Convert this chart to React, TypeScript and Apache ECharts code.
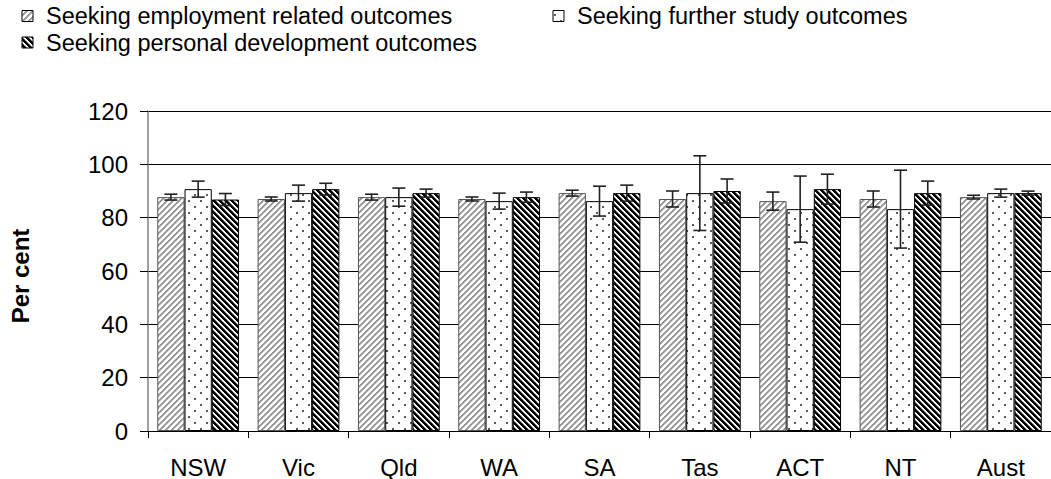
import React, { useEffect, useRef } from "react";
import * as echarts from "echarts";

const categories = ["NSW", "Vic", "Qld", "WA", "SA", "Tas", "ACT", "NT", "Aust"];
const seriesNames = [
  "Seeking employment related outcomes",
  "Seeking further study outcomes",
  "Seeking personal development outcomes",
];
const employment = [87.7, 87.0, 87.7, 87.0, 89.2, 87.0, 86.2, 87.0, 87.7];
const employmentErr = [1.1, 0.75, 1.1, 0.75, 1.1, 3.0, 3.4, 3.0, 0.7];
const further = [90.7, 89.2, 87.7, 86.2, 86.2, 89.2, 83.2, 83.2, 89.2];
const furtherErr = [3.0, 3.0, 3.4, 3.0, 5.6, 14.0, 12.4, 14.6, 1.5];
const personal = [86.8, 90.7, 89.2, 87.7, 89.2, 90.0, 90.7, 89.2, 89.2];
const personalErr = [2.25, 2.2, 1.5, 1.9, 3.0, 4.5, 5.6, 4.5, 0.75];
const yTicks = { min: 0, max: 120, interval: 20 };

const FONT = "'Liberation Sans', Arial, Helvetica, sans-serif";
const CAT_GAP = 0.185;

function makeCanvas(w: number, h: number, fn: (x: number, y: number) => number[]) {
  const c = document.createElement("canvas");
  c.width = w;
  c.height = h;
  const ctx = c.getContext("2d")!;
  const img = ctx.createImageData(w, h);
  for (let y = 0; y < h; y++) {
    for (let x = 0; x < w; x++) {
      const [r, g, b] = fn(x, y);
      const i = (y * w + x) * 4;
      img.data[i] = r;
      img.data[i + 1] = g;
      img.data[i + 2] = b;
      img.data[i + 3] = 255;
    }
  }
  ctx.putImageData(img, 0, 0);
  return c;
}

function buildPatterns() {
  const P = 6;
  const empl = makeCanvas(P, P, (x, y) => {
    const k = (x + y) % P;
    if (k < 2) return [150, 150, 150];
    if (k === 2) return [195, 195, 195];
    return [255, 255, 255];
  });
  const pers = makeCanvas(P, P, (x, y) => {
    const k = (((x - y) % P) + P) % P;
    if (k < 3) return [0, 0, 0];
    if (k === 3) return [120, 120, 120];
    return [255, 255, 255];
  });
  const dots = makeCanvas(12, 12, (x, y) => {
    const d1 = (x === 2 || x === 3) && (y === 2 || y === 3);
    const d2 = (x === 8 || x === 9) && (y === 8 || y === 9);
    if (d1 || d2) return [90, 90, 90];
    return [255, 255, 255];
  });
  return [
    { image: empl, repeat: "repeat" },
    { image: dots, repeat: "repeat" },
    { image: pers, repeat: "repeat" },
  ];
}

export default function App() {
  const ref = useRef<HTMLDivElement>(null);
  useEffect(() => {
    if (!ref.current) return;
    const chart = echarts.init(ref.current, null, { renderer: "svg" });
    const patterns = buildPatterns();
    const values = [employment, further, personal];
    const errs = [employmentErr, furtherErr, personalErr];
    const borders = ["#555555", "#000000", "#000000"];

    const barSeries = values.map((vals, s) => ({
      type: "bar",
      name: seriesNames[s],
      data: vals,
      barGap: "0%",
      barCategoryGap: CAT_GAP * 100 + "%",
      itemStyle: { color: patterns[s], borderColor: borders[s], borderWidth: 1 },
      z: 2,
    }));

    const errSeries = values.map((vals, s) => ({
      type: "custom",
      name: seriesNames[s] + " error",
      z: 5,
      data: vals.map((v, i) => [i, v, errs[s][i]]),
      encode: { x: 0, y: 1 },
      renderItem: (params: any, api: any) => {
        const idx = api.value(0);
        const v = api.value(1);
        const e = api.value(2);
        const c = api.coord([idx, v]);
        const band = api.size([1, 0])[0];
        const bw = (band * (1 - CAT_GAP)) / 3;
        const x = c[0] + (s - 1) * bw;
        const top = api.coord([idx, v + e])[1];
        const bot = api.coord([idx, v - e])[1];
        const cap = 6.5;
        const st = { stroke: "#222", lineWidth: 1.6 };
        return {
          type: "group",
          children: [
            { type: "line", shape: { x1: x, y1: top, x2: x, y2: bot }, style: st },
            { type: "line", shape: { x1: x - cap, y1: top, x2: x + cap, y2: top }, style: st },
            { type: "line", shape: { x1: x - cap, y1: bot, x2: x + cap, y2: bot }, style: st },
          ],
        };
      },
    }));

    const legendPos = [
      { ix: 22, iy: 10.5, tx: 46, ty: 16 },
      { ix: 553, iy: 10.5, tx: 577, ty: 16 },
      { ix: 22, iy: 37, tx: 46, ty: 42.5 },
    ];
    const legendGraphics: any[] = [];
    seriesNames.forEach((name, s) => {
      const p = legendPos[s];
      legendGraphics.push({
        type: "rect",
        shape: { x: p.ix, y: p.iy, width: 11, height: 11 },
        style: { fill: patterns[s], stroke: "#000", lineWidth: 1 },
      });
      legendGraphics.push({
        type: "text",
        x: p.tx,
        y: p.ty,
        style: {
          text: name,
          fontSize: 23.5,
          lineHeight: 22,
          fontFamily: FONT,
          fill: "#000",
          verticalAlign: "middle",
          align: "left",
        },
      });
    });

    chart.setOption({
      animation: false,
      backgroundColor: "#fff",
      textStyle: { fontFamily: FONT },
      grid: { left: 142, right: -5.7, top: 111, bottom: 47.3, containLabel: false },
      xAxis: {
        type: "category",
        data: categories,
        boundaryGap: true,
        axisLine: { lineStyle: { color: "#000", width: 1 } },
        axisTick: { show: true, length: 7, lineStyle: { color: "#000" }, alignWithLabel: false },
        axisLabel: { color: "#000", fontSize: 24, fontFamily: FONT, margin: 24 },
        splitLine: { show: false },
      },
      yAxis: {
        type: "value",
        min: yTicks.min,
        max: yTicks.max,
        interval: yTicks.interval,
        name: "Per cent",
        nameLocation: "middle",
        nameGap: 116,
        nameTextStyle: {
          fontSize: 24,
          fontWeight: "bold",
          color: "#000",
          fontFamily: FONT,
          padding: [0, 10, 0, 0],
        },
        axisLine: { show: true, lineStyle: { color: "#808080", width: 1.5 } },
        axisTick: { show: true, length: 8, lineStyle: { color: "#000" } },
        axisLabel: { color: "#000", fontSize: 24, fontFamily: FONT, margin: 20 },
        splitLine: { show: true, lineStyle: { color: "#000", width: 1 } },
      },
      graphic: legendGraphics,
      series: [...barSeries, ...errSeries],
    });
    return () => chart.dispose();
  }, []);
  return (
    <div
      ref={ref}
      style={{ position: "fixed", left: 0, top: 0, width: 1051, height: 479, background: "#fff" }}
    />
  );
}
